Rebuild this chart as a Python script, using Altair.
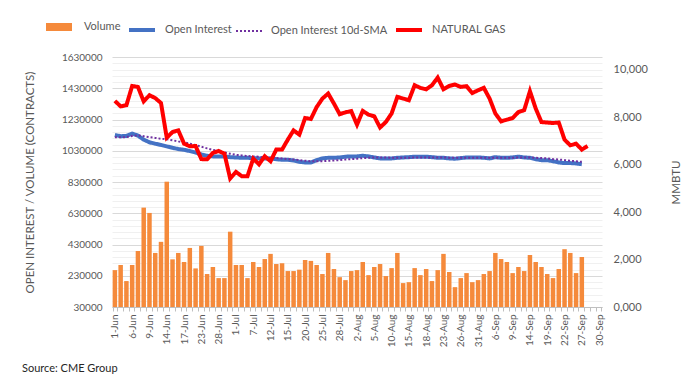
import json
import altair as alt
import pandas as pd

DATES = [
    "1-Jun", "2-Jun", "3-Jun", "6-Jun", "7-Jun", "8-Jun", "9-Jun", "10-Jun", "13-Jun", "14-Jun",
    "15-Jun", "16-Jun", "17-Jun", "21-Jun", "22-Jun", "23-Jun", "24-Jun", "27-Jun", "28-Jun", "29-Jun",
    "30-Jun", "1-Jul", "5-Jul", "6-Jul", "7-Jul", "8-Jul", "11-Jul", "12-Jul", "13-Jul", "14-Jul",
    "15-Jul", "18-Jul", "19-Jul", "20-Jul", "21-Jul", "22-Jul", "25-Jul", "26-Jul", "27-Jul", "28-Jul",
    "29-Jul", "1-Aug", "2-Aug", "3-Aug", "4-Aug", "5-Aug", "8-Aug", "9-Aug", "10-Aug", "11-Aug",
    "12-Aug", "15-Aug", "16-Aug", "17-Aug", "18-Aug", "19-Aug", "22-Aug", "23-Aug", "24-Aug", "25-Aug",
    "26-Aug", "29-Aug", "30-Aug", "31-Aug", "1-Sep", "2-Sep", "6-Sep", "7-Sep", "8-Sep", "9-Sep",
    "12-Sep", "13-Sep", "14-Sep", "15-Sep", "16-Sep", "19-Sep", "20-Sep", "21-Sep", "22-Sep", "23-Sep",
    "26-Sep", "27-Sep", "28-Sep", "29-Sep", "30-Sep",
]
SHOWN_LABELS = DATES[::3]

VOLUME = [
    266000, 299000, 196000, 299000, 389000, 666000, 632000, 376000, 447000, 832000,
    335000, 376000, 318000, 408000, 277000, 421000, 241000, 286000, 215000, 215000,
    512000, 299000, 299000, 215000, 318000, 286000, 337000, 370000, 305000, 310000,
    260000, 260000, 269000, 331000, 325000, 299000, 241000, 376000, 273000, 221000,
    202000, 260000, 266000, 318000, 234000, 286000, 305000, 228000, 279000, 376000,
    183000, 189000, 279000, 234000, 273000, 196000, 266000, 370000, 254000, 157000,
    215000, 247000, 189000, 202000, 241000, 260000, 376000, 337000, 318000, 247000,
    286000, 260000, 363000, 318000, 286000, 241000, 215000, 273000, 400000, 376000,
    247000, 350000,
]

OPEN_INTEREST = [
    1131000, 1123000, 1125000, 1140000, 1127000, 1101000, 1084000, 1075000, 1067000, 1058000,
    1049000, 1041000, 1036000, 1028000, 1019000, 1006000, 998000, 994000, 994000, 994000,
    989000, 987000, 985000, 985000, 983000, 981000, 981000, 981000, 976000, 972000,
    972000, 968000, 959000, 955000, 955000, 970000, 981000, 985000, 985000, 987000,
    992000, 994000, 994000, 998000, 994000, 987000, 981000, 981000, 981000, 985000,
    987000, 989000, 992000, 992000, 992000, 989000, 985000, 985000, 981000, 979000,
    983000, 987000, 987000, 987000, 985000, 981000, 989000, 985000, 985000, 987000,
    992000, 987000, 985000, 976000, 970000, 970000, 963000, 955000, 951000, 951000,
    949000, 944000,
]

OI_SMA_10D = [
    1117000, 1117000, 1117000, 1125000, 1129000, 1123000, 1117000, 1112000, 1107000, 1103000,
    1097000, 1090000, 1084000, 1075000, 1067000, 1056000, 1045000, 1036000, 1028000, 1019000,
    1011000, 1004000, 1000000, 996000, 994000, 992000, 987000, 985000, 983000, 981000,
    976000, 974000, 970000, 966000, 963000, 963000, 963000, 966000, 968000, 970000,
    974000, 976000, 979000, 983000, 985000, 987000, 987000, 987000, 985000, 985000,
    985000, 985000, 987000, 987000, 987000, 987000, 987000, 987000, 985000, 985000,
    985000, 985000, 985000, 985000, 985000, 985000, 985000, 985000, 985000, 985000,
    987000, 987000, 987000, 985000, 983000, 981000, 976000, 974000, 970000, 966000,
    963000, 959000,
]

NATURAL_GAS = [
    8680, 8450, 8500, 9310, 9270, 8660, 8920, 8800, 8590, 7130,
    7370, 7440, 6880, 6770, 6780, 6230, 6220, 6490, 6570, 6460,
    5410, 5690, 5510, 5510, 6250, 6010, 6350, 6140, 6630, 6630,
    7050, 7440, 7260, 7960, 7920, 8420, 8780, 8990, 8570, 8120,
    8200, 8250, 7680, 8260, 8100, 8030, 7560, 7790, 8150, 8850,
    8780, 8710, 9340, 9230, 9170, 9340, 9660, 9170, 9310, 9370,
    9270, 9300, 9010, 9130, 9230, 8780, 8150, 7820, 7890, 7960,
    8210, 8290, 9090, 8360, 7790, 7770, 7750, 7770, 7050, 6810,
    6880, 6630, 6780,
]

SERIES = ["Volume", "Open Interest", "Open Interest 10d-SMA", "NATURAL GAS"]
COLORS = ["#F58A3B", "#4472C4", "#7030A0", "#FF0000"]
DASHES = [[1, 0], [1, 0], [2, 2], [1, 0]]
WIDTHS = [8, 4, 2, 4]

LEFT_TICKS = list(range(30000, 1630001, 40000))
RIGHT_TICKS = list(range(0, 10001, 2000))

FONT = "Lato"
GREY = "#595959"


def frame(values, name):
    return pd.DataFrame({"date": DATES[: len(values)], "value": values, "series": name})


vol_df = frame(VOLUME, "Volume")
oi_df = frame(OPEN_INTEREST, "Open Interest")
sma_df = frame(OI_SMA_10D, "Open Interest 10d-SMA")
ng_df = frame(NATURAL_GAS, "NATURAL GAS")

label_expr = "indexof(" + json.dumps(SHOWN_LABELS) + ", datum.value) >= 0 ? datum.value : ''"

x_enc = alt.X(
    "date:N",
    sort=DATES,
    title=None,
    scale=alt.Scale(domain=DATES, paddingInner=0.22, paddingOuter=0.11),
    axis=alt.Axis(
        values=DATES,
        labelExpr=label_expr,
        labelAngle=270,
        labelOverlap=False,
        tickBand="extent",
        tickSize=4,
        tickColor="#bfbfbf",
        domainColor="#bfbfbf",
        labelColor=GREY,
        labelFontSize=10,
        labelPadding=3,
        grid=False,
    ),
)

major_test = "(datum.value - 30000) % 200000 == 0"
left_axis = alt.Axis(
    values=LEFT_TICKS,
    format="d",
    labelExpr=major_test + " ? datum.label : ''",
    gridColor={"condition": {"test": major_test, "value": "#d9d9d9"}, "value": "#f0f0f0"},
    gridWidth=1,
    ticks=False,
    domain=False,
    labelColor=GREY,
    labelFontSize=10,
    labelPadding=10,
    title="OPEN INTEREST / VOLUME (CONTRACTS)",
    titleFontSize=11.5,
    titleFontWeight="normal",
    titleColor=GREY,
    titlePadding=26,
)
y_left = alt.Y("value:Q", scale=alt.Scale(domain=[30000, 1630000], nice=False, zero=False), axis=left_axis)

legend = alt.Legend(
    title=None,
    orient="none",
    direction="horizontal",
    legendX=-70,
    legendY=-47,
    symbolType="stroke",
    symbolSize=676,
    labelFont=FONT,
    labelFontSize=11,
    labelColor=GREY,
    labelBaseline="middle",
    columnPadding=0,
    labelOffset=8,
)
color = alt.Color("series:N", scale=alt.Scale(domain=SERIES, range=COLORS), legend=legend)
dash = alt.StrokeDash("series:N", scale=alt.Scale(domain=SERIES, range=DASHES), legend=legend)
width = alt.StrokeWidth("series:N", scale=alt.Scale(type="ordinal", domain=SERIES, range=WIDTHS), legend=legend)

oi_line = alt.Chart(oi_df).mark_line().encode(x=x_enc, y=y_left, color=color, strokeDash=dash, strokeWidth=width)
sma_line = alt.Chart(sma_df).mark_line().encode(x=x_enc, y=y_left, color=color, strokeDash=dash, strokeWidth=width)
bars = alt.Chart(vol_df).mark_bar().encode(x=x_enc, y=y_left, y2=alt.datum(30000), color=color)

ng_line = alt.Chart(ng_df).mark_line().encode(
    x=x_enc,
    y=alt.Y(
        "value:Q",
        scale=alt.Scale(domain=[0, 10530], nice=False, zero=False),
        axis=alt.Axis(
            orient="right",
            values=RIGHT_TICKS,
            labelExpr="datum.value == 0 ? '0,000' : format(datum.value, ',')",
            grid=False,
            ticks=False,
            domain=False,
            labelColor=GREY,
            labelFontSize=11,
            labelPadding=11,
            title="MMBTU",
            titleAngle=270,
            titleFontSize=11.5,
            titleFontWeight="normal",
            titleColor=GREY,
            titlePadding=34,
        ),
    ),
    color=color,
    strokeDash=dash,
    strokeWidth=width,
)

left = alt.layer(oi_line, sma_line, bars)
chart = (
    alt.layer(left, ng_line)
    .resolve_scale(y="independent")
    .properties(
        width=490,
        height=250,
        autosize=alt.AutoSizeParams(type="none"),
        padding={"left": 104, "top": 49, "right": 84, "bottom": 76},
        title=alt.Title(
            "Source: CME Group",
            orient="bottom",
            anchor="start",
            frame="group",
            dx=-90,
            offset=16,
            font=FONT,
            fontSize=11,
            fontWeight="normal",
            color="#262626",
        ),
    )
    .configure_view(stroke=None)
    .configure_axis(labelFont=FONT, titleFont=FONT)
)

chart.save("out.html", embed_options={"renderer": "svg", "actions": False})
